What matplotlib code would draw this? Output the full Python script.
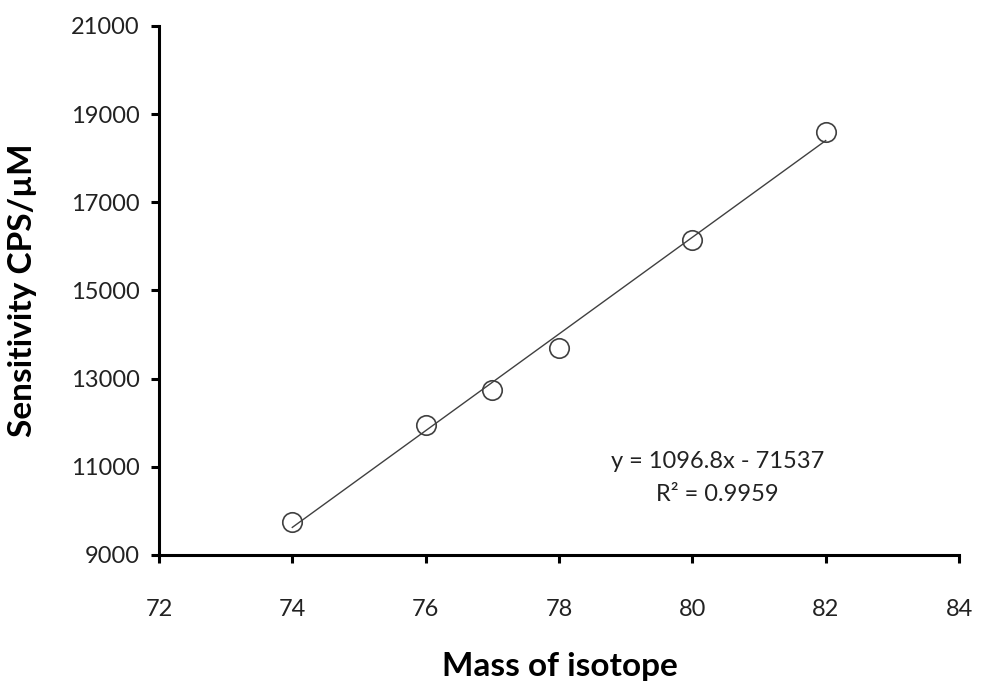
import matplotlib
matplotlib.use("Agg")
import matplotlib.pyplot as plt
import numpy as np

plt.rcParams['font.family'] = ['Lato', 'DejaVu Sans']

mass = [74, 76, 77, 78, 80, 82]
sensitivity = [9750, 11950, 12750, 13700, 16150, 18600]
slope = 1096.8
intercept = -71537
r2 = 0.9959
xticks = [72, 74, 76, 78, 80, 82, 84]
yticks = [9000, 11000, 13000, 15000, 17000, 19000, 21000]

fig = plt.figure(figsize=(9.83, 6.84), dpi=100)
ax = fig.add_axes([0.1617, 0.1886, 0.8139, 0.7734])

xf = np.array([min(mass), max(mass)])
ax.plot(xf, slope * xf + intercept, color='#404040', lw=1.0, zorder=2)
ax.plot(mass, sensitivity, 'o', ms=14, mfc='none', mec='#404040', mew=1.2, zorder=3)

ax.set_xlim(72, 84)
ax.set_ylim(9000, 21000)
ax.set_xticks(xticks)
ax.set_yticks(yticks)
for s in ['top', 'right']:
    ax.spines[s].set_visible(False)
for s in ['left', 'bottom']:
    ax.spines[s].set_linewidth(2.2)
ax.tick_params(axis='both', direction='out', length=6, width=2.2, labelsize=17,
               colors='black', labelcolor='#222222')
ax.tick_params(axis='x', pad=26)
ax.tick_params(axis='y', pad=8)

fig.text(560 / 983, 1 - 676 / 684, 'Mass of isotope', fontsize=24, fontweight='bold',
         ha='center', va='baseline')
fig.text(23 / 983, 1 - 290 / 684, 'Sensitivity CPS/µM', fontsize=24, fontweight='bold',
         ha='center', va='center', rotation=90)

ax.text(80.38, 11130, 'y = 1096.8x - 71537', fontsize=17, ha='center', va='center', color='#222222')
ax.text(80.38, 10380, 'R² = 0.9959', fontsize=17, ha='center', va='center', color='#222222')

fig.savefig('out.png', dpi=100)
